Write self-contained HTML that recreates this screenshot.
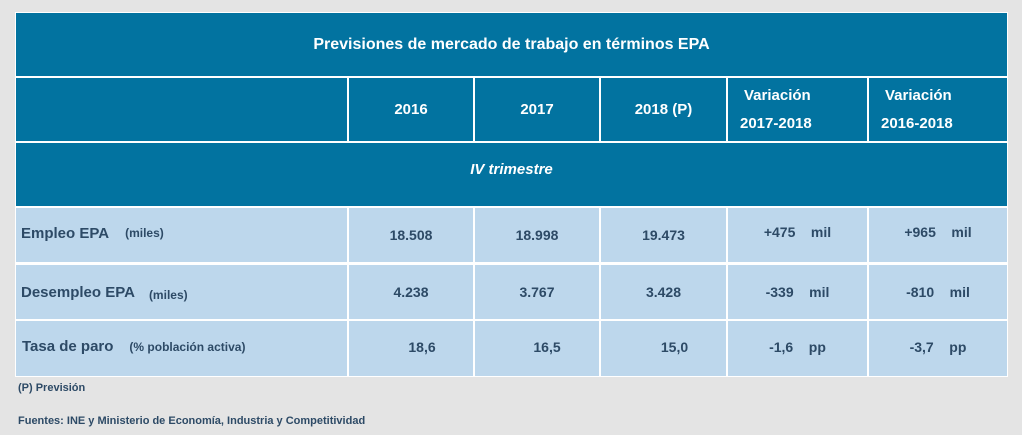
<!DOCTYPE html>
<html><head><meta charset="utf-8"><style>
body{margin:0;width:1022px;height:435px;background:#e4e4e4;font-family:"Liberation Sans",sans-serif;font-weight:bold;position:relative;overflow:hidden}
.c{position:absolute;box-sizing:border-box;display:flex;align-items:center;justify-content:center;font-size:14px}
.h{background:#0273a0;color:#fff;font-size:15px}
.b{background:#bdd7ec;color:#2d4a66}
.s{font-size:12px}
.n{position:absolute;font-size:11px;color:#2d4a66}
</style></head><body>
<div style="position:absolute;left:15px;top:12px;width:993px;height:365px;background:#fff"></div>
<div class="c h" style="left:16px;top:13px;width:991px;height:63px;font-size:16px">Previsiones de mercado de trabajo en términos EPA</div>
<div class="c h" style="left:16px;top:78px;width:331px;height:63px"></div>
<div class="c h" style="left:349px;top:78px;width:124px;height:63px">2016</div>
<div class="c h" style="left:475px;top:78px;width:124px;height:63px">2017</div>
<div class="c h" style="left:601px;top:78px;width:125px;height:63px">2018 (P)</div>
<div class="c h" style="left:728px;top:78px;width:139px;height:63px;flex-direction:column;align-items:flex-start;padding-left:12px;line-height:28px"><span style="margin-left:4px">Variación</span><span>2017-2018</span></div>
<div class="c h" style="left:869px;top:78px;width:138px;height:63px;flex-direction:column;align-items:flex-start;padding-left:12px;line-height:28px"><span style="margin-left:4px">Variación</span><span>2016-2018</span></div>
<div class="c h" style="left:16px;top:143px;width:991px;height:63px;font-style:italic;padding-bottom:10px">IV trimestre</div>

<div class="c b" style="left:16px;top:208px;width:331px;height:54px;justify-content:flex-start;padding-left:5px;padding-bottom:4px;font-size:15px">Empleo EPA<span class="s" style="margin-left:16px">(miles)</span></div>
<div class="c b" style="left:349px;top:208px;width:124px;height:54px">18.508</div>
<div class="c b" style="left:475px;top:208px;width:124px;height:54px">18.998</div>
<div class="c b" style="left:601px;top:208px;width:125px;height:54px">19.473</div>
<div class="c b" style="left:728px;top:208px;width:139px;height:54px;padding-bottom:6px">+475&nbsp;&nbsp;&nbsp;&nbsp;mil</div>
<div class="c b" style="left:869px;top:208px;width:138px;height:54px;padding-bottom:6px">+965&nbsp;&nbsp;&nbsp;&nbsp;mil</div>

<div class="c b" style="left:16px;top:265px;width:331px;height:54px;justify-content:flex-start;padding-left:5px;font-size:15px">Desempleo EPA<span class="s" style="margin-left:14px;margin-top:6px">(miles)</span></div>
<div class="c b" style="left:349px;top:265px;width:124px;height:54px">4.238</div>
<div class="c b" style="left:475px;top:265px;width:124px;height:54px">3.767</div>
<div class="c b" style="left:601px;top:265px;width:125px;height:54px">3.428</div>
<div class="c b" style="left:728px;top:265px;width:139px;height:54px">-339&nbsp;&nbsp;&nbsp;&nbsp;mil</div>
<div class="c b" style="left:869px;top:265px;width:138px;height:54px">-810&nbsp;&nbsp;&nbsp;&nbsp;mil</div>

<div class="c b" style="left:16px;top:321px;width:331px;height:55px;justify-content:flex-start;padding-left:6px;padding-bottom:4px;font-size:15px">Tasa de paro<span class="s" style="margin-left:16px">(% población activa)</span></div>
<div class="c b" style="left:349px;top:321px;width:124px;height:55px;padding-bottom:4px;padding-left:22px">18,6</div>
<div class="c b" style="left:475px;top:321px;width:124px;height:55px;padding-bottom:4px;padding-left:20px">16,5</div>
<div class="c b" style="left:601px;top:321px;width:125px;height:55px;padding-bottom:4px;padding-left:22px">15,0</div>
<div class="c b" style="left:728px;top:321px;width:139px;height:55px;padding-bottom:4px">-1,6&nbsp;&nbsp;&nbsp;&nbsp;pp</div>
<div class="c b" style="left:869px;top:321px;width:138px;height:55px;padding-bottom:4px">-3,7&nbsp;&nbsp;&nbsp;&nbsp;pp</div>

<div class="n" style="left:18px;top:382px">(P) Previsión</div>
<div class="n" style="left:18px;top:415px">Fuentes: INE y Ministerio de Economía, Industria y Competitividad</div>
</body></html>
